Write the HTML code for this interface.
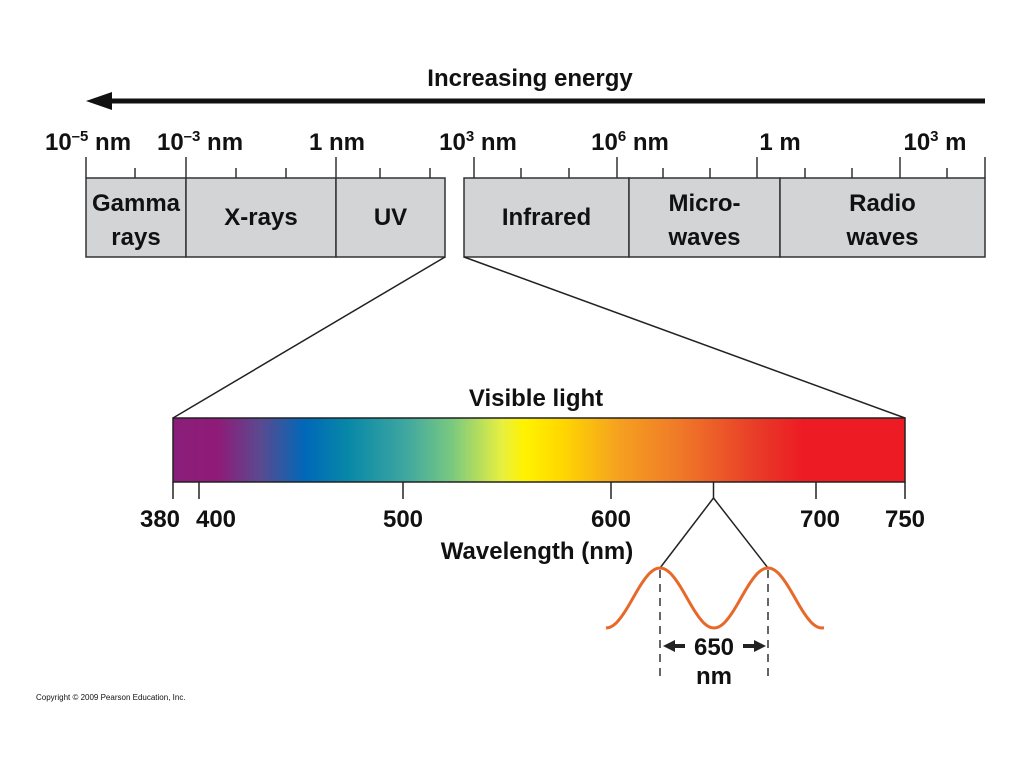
<!DOCTYPE html>
<html><head><meta charset="utf-8"><style>
body{margin:0;background:#fff;width:1024px;height:768px;overflow:hidden}
svg text{font-family:"Liberation Sans",sans-serif;font-weight:bold;fill:#111}
</style></head><body>
<svg width="1024" height="768">
<defs>
<linearGradient id="vis" x1="0" x2="1" y1="0" y2="0">
<stop offset="0" stop-color="#8a1f7a"/><stop offset="0.06" stop-color="#901a78"/>
<stop offset="0.12" stop-color="#5a4a90"/><stop offset="0.18" stop-color="#0068b8"/>
<stop offset="0.24" stop-color="#0888a8"/><stop offset="0.32" stop-color="#40a8a0"/>
<stop offset="0.38" stop-color="#78c880"/><stop offset="0.45" stop-color="#e8f040"/>
<stop offset="0.48" stop-color="#fff200"/><stop offset="0.53" stop-color="#ffd800"/>
<stop offset="0.61" stop-color="#f5a020"/><stop offset="0.69" stop-color="#f07a28"/>
<stop offset="0.80" stop-color="#e83a28"/><stop offset="0.86" stop-color="#ed1c24"/>
<stop offset="1" stop-color="#ed1c24"/>
</linearGradient>
</defs>
<text x="530" y="86" font-size="24" text-anchor="middle">Increasing energy</text>
<g>
<line x1="100" y1="101" x2="985" y2="101" stroke="#111" stroke-width="5"/>
<polygon points="86,101 112,92 112,110" fill="#111"/>
</g>
<g id="bands"></g>
<g id="topAxis"></g>
<g stroke="#222" stroke-width="1.5">
<line x1="445" y1="257" x2="173" y2="418"/><line x1="464" y1="257" x2="905" y2="418"/>
</g>
<text x="536" y="406" font-size="24" text-anchor="middle">Visible light</text>
<rect x="173" y="418" width="732" height="64" fill="url(#vis)" stroke="#222" stroke-width="1.5"/>
<g id="visAxis"></g>
<text x="537" y="559" font-size="24" text-anchor="middle">Wavelength (nm)</text>
<g id="wave"></g>
<text x="36" y="700" font-size="8" style="font-weight:normal" fill="#444">Copyright © 2009 Pearson Education, Inc.</text>
</svg>
<script>
const NS='http://www.w3.org/2000/svg';
const majorTickLabels=['10<tspan font-size="15" dy="-9">–5</tspan><tspan dy="9"> nm</tspan>','10<tspan font-size="15" dy="-9">–3</tspan><tspan dy="9"> nm</tspan>','1 nm','10<tspan font-size="15" dy="-9">3</tspan><tspan dy="9"> nm</tspan>','10<tspan font-size="15" dy="-9">6</tspan><tspan dy="9"> nm</tspan>','1 m','10<tspan font-size="15" dy="-9">3</tspan><tspan dy="9"> m</tspan>'];
const majorTickPos=[86,186,336,474,617,757,900];
const minorTickPos=[135,236,286,380,430,521,569,663,710,805,852,947];
const labelX=[88,200,337,478,630,780,935];
const bandNames=[['Gamma','rays'],['X-rays'],['UV'],['Infrared'],['Micro-','waves'],['Radio','waves']];
const bandEdges=[[86,186],[186,336],[336,445],[464,629],[629,780],[780,985]];
const visTicks=[380,400,500,600,700,750];
const visTickPx=[173,199,403,611,816,905];
const visLabels=['380','400','500','600','700','750'];
const visLabelX=[160,216,403,611,820,905];
const highlightNm=650;
function visX(nm){for(let i=0;i<visTicks.length-1;i++){if(nm<=visTicks[i+1]){const t=(nm-visTicks[i])/(visTicks[i+1]-visTicks[i]);return visTickPx[i]+t*(visTickPx[i+1]-visTickPx[i]);}}return visTickPx[visTickPx.length-1];}
function mk(tag,attrs,parent){const e=document.createElementNS(NS,tag);for(const k in attrs)e.setAttribute(k,attrs[k]);parent.appendChild(e);return e;}
const ta=document.getElementById('topAxis');
majorTickPos.forEach((x,i)=>{const l=mk('line',{x1:x,y1:157,x2:x,y2:178,stroke:'#333','stroke-width':1.5},ta);


const t=mk('text',{x:labelX[i],y:150,'font-size':24,'text-anchor':'middle'},ta);t.innerHTML=majorTickLabels[i];

});
mk('line',{x1:985,y1:157,x2:985,y2:178,stroke:'#333','stroke-width':1.5},ta);
minorTickPos.forEach(x=>{const l=mk('line',{x1:x,y1:168,x2:x,y2:178,stroke:'#333','stroke-width':1.5},ta);

});
const bg=document.getElementById('bands');
bandEdges.forEach((e,i)=>{const r=mk('rect',{x:e[0],y:178,width:e[1]-e[0],height:79,fill:'#d3d4d5',stroke:'#333','stroke-width':1.5},bg);


const cx=(e[0]+e[1])/2;const lines=bandNames[i];
const y0=lines.length==2?211:225;
lines.forEach((s,j)=>{const t=mk('text',{x:cx,y:y0+j*34,'font-size':24,'text-anchor':'middle'},bg);t.textContent=s;

});});
const va=document.getElementById('visAxis');
visTicks.forEach((v,i)=>{const x=visX(v);const l=mk('line',{x1:x,y1:482,x2:x,y2:499,stroke:'#222','stroke-width':1.5},va);


const t=mk('text',{x:visLabelX[i],y:527,'font-size':24,'text-anchor':'middle'},va);t.textContent=visLabels[i];

});
const w=document.getElementById('wave');
const hx=visX(highlightNm);
const p1=660,p2=768,py=568,ty=628;
mk('polyline',{points:`${hx},482 ${hx},498 ${p1},${py}`,fill:'none',stroke:'#222','stroke-width':1.5},w);
mk('line',{x1:hx,y1:498,x2:p2,y2:py,stroke:'#222','stroke-width':1.5},w);
const per=p2-p1,amp=(ty-py)/2,mid=(ty+py)/2;let d='';
for(let x=606;x<=824;x+=2){const y=mid-amp*Math.cos(2*Math.PI*(x-p1)/per);d+=(d?'L':'M')+x+','+y.toFixed(1);}
const wp=mk('path',{d:d,fill:'none',stroke:'#e8682a','stroke-width':3},w);


[p1,p2].forEach(x=>mk('line',{x1:x,y1:570,x2:x,y2:682,stroke:'#333','stroke-width':1.5,'stroke-dasharray':'8,6'},w));
mk('line',{x1:672,y1:646,x2:685,y2:646,stroke:'#222','stroke-width':4},w);
mk('polygon',{points:'663,646 675,640 675,652',fill:'#222'},w);
mk('line',{x1:743,y1:646,x2:756,y2:646,stroke:'#222','stroke-width':4},w);
mk('polygon',{points:'766,646 754,640 754,652',fill:'#222'},w);
const t1=mk('text',{x:714,y:655,'font-size':24,'text-anchor':'middle'},w);t1.textContent='650';
const t2=mk('text',{x:714,y:684,'font-size':24,'text-anchor':'middle'},w);t2.textContent='nm';
</script>
</body></html>
